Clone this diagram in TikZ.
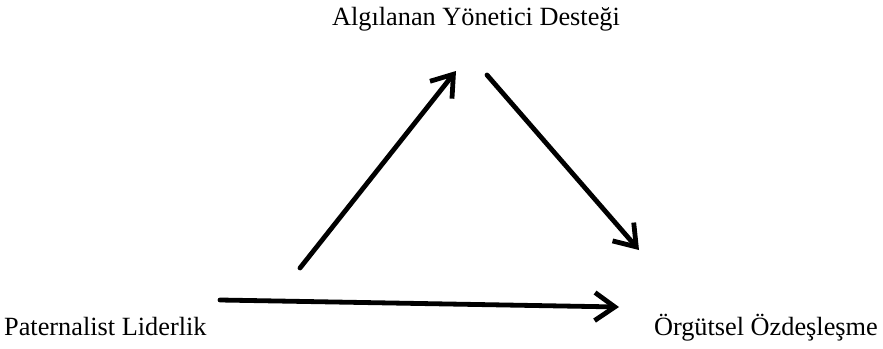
\documentclass[tikz,border=0pt]{standalone}
\usepackage{fontspec}
\setmainfont{Liberation Serif}
\usetikzlibrary{arrows.meta}
\tikzset{
  lbl/.style={font=\fontsize{26.3}{29}\selectfont, inner sep=0pt},
  arr/.style={line width=4.8pt, line cap=round, -{Straight Barb[length=20pt,width=28pt,line width=4.8pt]}}
}
\begin{document}
\begin{tikzpicture}[x=1pt,y=-1pt]
\useasboundingbox (0,0) rectangle (883,348);
\node[lbl, anchor=base] (top) at (476,25) {Algılanan Yönetici Desteği};
\node[lbl, anchor=base west] (left) at (4,335) {Paternalist Liderlik};
\node[lbl, anchor=base east] (right) at (878,335) {Örgütsel Özdeşleşme};
\coordinate (a1s) at (300,268);
\coordinate (a1e) at (456,71);
\coordinate (a2s) at (487,75);
\coordinate (a2e) at (639,250);
\coordinate (a3s) at (220,300);
\coordinate (a3e) at (619,307);
\draw[arr] (a1s) -- (a1e);
\draw[arr] (a2s) -- (a2e);
\draw[arr] (a3s) -- (a3e);
\end{tikzpicture}
\end{document}
